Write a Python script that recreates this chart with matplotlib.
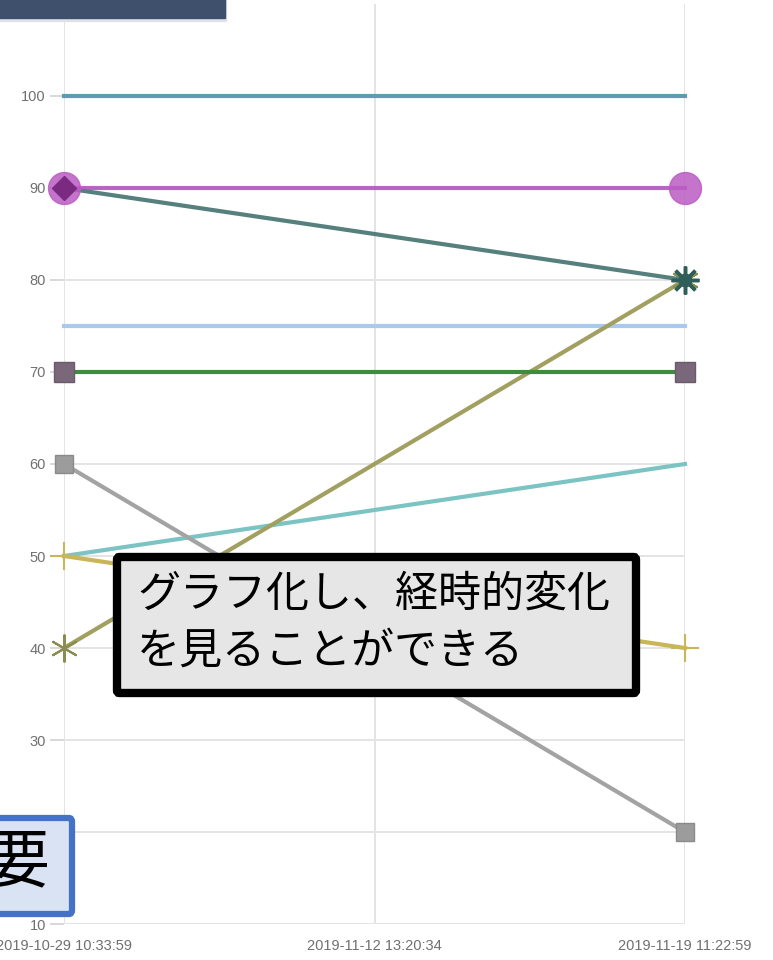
import numpy as np
import matplotlib.pyplot as plt
from matplotlib.patches import FancyBboxPatch, Rectangle

plt.rcParams['font.family'] = ['Noto Sans CJK JP', 'DejaVu Sans']

# x軸ラベル（カテゴリ扱い）
x_labels = ['2019-10-29 10:33:59', '2019-11-12 13:20:34', '2019-11-19 11:22:59']
x_pos = [0, 2]  # データは最初と最後の日付のみ

# 各系列の値（開始, 終了）
s_100 = [100, 100]
s_purple = [90, 90]
s_slate = [90, 80]
s_lightblue = [75, 75]
s_green = [70, 70]
s_gray = [60, 20]
s_teal = [50, 60]
s_khaki = [50, 40]
s_olive = [40, 80]

W, H = 773, 960
fig = plt.figure(figsize=(W / 100, H / 100), dpi=100)


def fx(px):
    return px / W


def fy(py):
    return 1 - py / H


ax = fig.add_axes([fx(64), fy(924), fx(685) - fx(64), fy(4) - fy(924)])
ax.set_xlim(0, 2)
ax.set_ylim(10, 110)
ax.set_yticks(np.arange(10, 101, 10))
ax.set_xticks([0, 1, 2])
ax.set_xticklabels(x_labels)
for s in ax.spines.values():
    s.set_visible(False)
ax.grid(True, color='#e4e4e4', lw=1.4)
ax.set_axisbelow(True)
ax.tick_params(axis='y', length=10, color='#d8d8d8', width=1.4, pad=3,
               labelsize=10.5, labelcolor='#707070')
ax.tick_params(axis='x', length=0, pad=11, labelsize=10.5, labelcolor='#707070')
for lab in ax.get_xticklabels() + ax.get_yticklabels():
    lab.set_family('Liberation Sans')

lw = 3
ax.plot(x_pos, s_100, color='#5f9bb0', lw=lw, clip_on=False)
ax.plot(x_pos, s_lightblue, color='#a9caee', lw=lw, clip_on=False)
ax.plot(x_pos, s_teal, color='#7cc4c4', lw=lw, clip_on=False)
ax.plot(x_pos, s_gray, color='#a3a3a3', lw=lw, clip_on=False,
        marker='s', ms=13, mfc='#9c9c9c', mec='#8a8a8a', mew=1)
ax.plot(x_pos, s_khaki, color='#c8b658', lw=lw, clip_on=False,
        marker='+', ms=20, mec='#c8b658', mew=1.5)
ax.plot(x_pos, s_olive, color='#a2a060', lw=lw, clip_on=False,
        marker=(6, 2, 0), ms=20, mec='#8a8c50', mew=1.5)
ax.plot(x_pos, s_green, color='#3e8c3e', lw=lw, clip_on=False,
        marker='s', ms=14, mfc='#7a687a', mec='#6a5a6a', mew=1)
ax.plot(x_pos, s_slate, color='#55807d', lw=lw, clip_on=False)
ax.plot(x_pos, s_purple, color='#b04cbc', lw=lw, clip_on=False,
        marker='o', ms=23, mfc='#bb5cc4', mec='#bb5cc4', alpha=0.85)
ax.plot(x_pos[:1], s_slate[:1], ls='none', marker='D', ms=12,
        mfc='#7a2a80', mec='#7a2a80', clip_on=False)
ax.plot(x_pos[1:], s_slate[1:], ls='none', marker=(8, 2, 0), ms=20,
        mec='#2f5e58', mew=2.5, clip_on=False)
ax.plot(x_pos[1:], s_slate[1:], ls='none', marker='o', ms=9,
        mfc='#2f5e58', mec='#2f5e58', clip_on=False)

# 上部のダークボックス
fig.patches.append(Rectangle((fx(-5), fy(21)), fx(231), fy(0) - fy(21) + 0.01,
                             transform=fig.transFigure, color='#dfe2e6', zorder=5))
fig.patches.append(Rectangle((fx(-5), fy(18)), fx(230), fy(0) - fy(18) + 0.01,
                             transform=fig.transFigure, color='#3e506b', zorder=6))

# 注釈ボックス
fig.patches.append(FancyBboxPatch((fx(117), fy(693)), fx(636) - fx(117), fy(557) - fy(693),
                                  boxstyle='round,pad=0,rounding_size=0.003',
                                  transform=fig.transFigure, fc='#e6e6e6',
                                  ec='black', lw=6, zorder=7))
fig.text(fx(137), fy(623), 'グラフ化し、経時的変化\nを見ることができる',
         fontsize=31, color='black', ha='left', va='center',
         linespacing=1.38, zorder=8)

# 左下のボックス
fig.patches.append(FancyBboxPatch((fx(-20), fy(914)), fx(72) + fx(20), fy(818) - fy(914),
                                  boxstyle='round,pad=0,rounding_size=0.004',
                                  transform=fig.transFigure, fc='#dae3f3',
                                  ec='#4472c4', lw=4.5, zorder=7))
fig.text(fx(17), fy(863), '要', fontsize=46, color='black',
         ha='center', va='center', zorder=8)

fig.savefig('out.png', dpi=100)
